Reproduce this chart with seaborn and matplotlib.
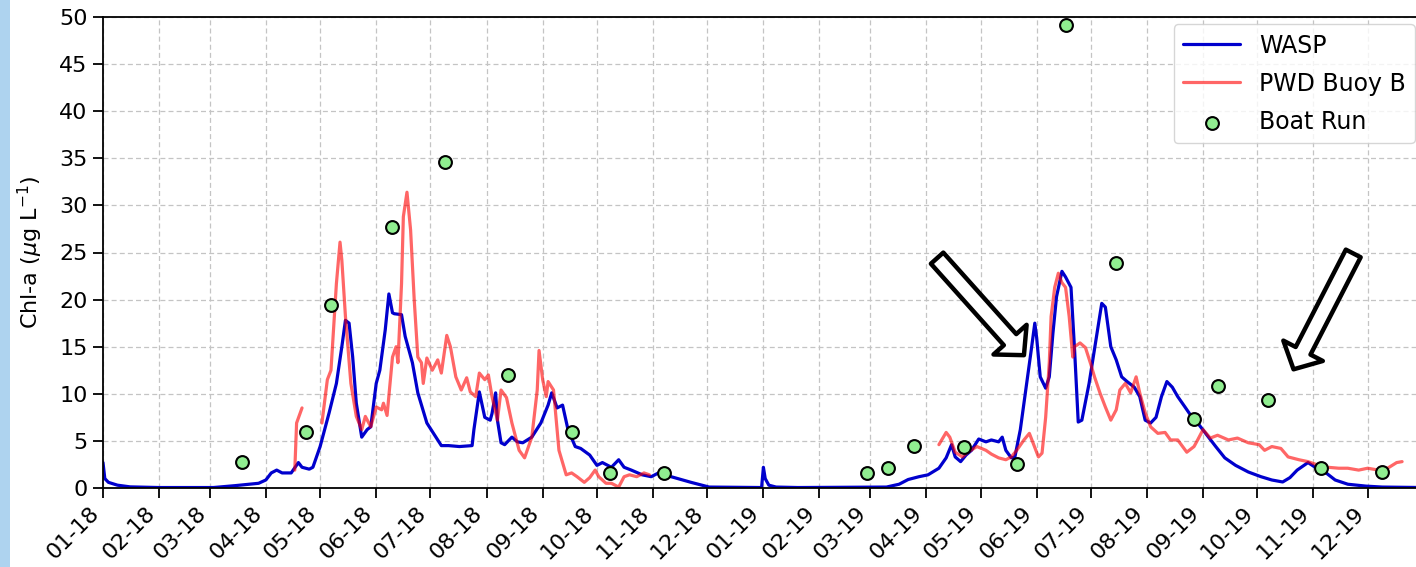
import pandas as pd
import matplotlib
matplotlib.use('Agg')
import matplotlib.pyplot as plt
import matplotlib.dates as mdates
from matplotlib.patches import Rectangle
import seaborn as sns

# WASP model output
wasp_dates = ['2018-01-01', '2018-01-02', '2018-01-04', '2018-01-09', '2018-01-16', '2018-02-01',
              '2018-03-03', '2018-03-15', '2018-03-28', '2018-04-01', '2018-04-04', '2018-04-07',
              '2018-04-10', '2018-04-15', '2018-04-19', '2018-04-21', '2018-04-25', '2018-04-27',
              '2018-05-01', '2018-05-06', '2018-05-10', '2018-05-13', '2018-05-15', '2018-05-17',
              '2018-05-19', '2018-05-21', '2018-05-24', '2018-05-27', '2018-05-29', '2018-06-01',
              '2018-06-03', '2018-06-06', '2018-06-08', '2018-06-10', '2018-06-11', '2018-06-15',
              '2018-06-17', '2018-06-21', '2018-06-24', '2018-06-29', '2018-07-04', '2018-07-07',
              '2018-07-11', '2018-07-17', '2018-07-24', '2018-07-25', '2018-07-28', '2018-07-31',
              '2018-08-03', '2018-08-04', '2018-08-06', '2018-08-07', '2018-08-09', '2018-08-11',
              '2018-08-15', '2018-08-18', '2018-08-21', '2018-08-26', '2018-08-31', '2018-09-04',
              '2018-09-06', '2018-09-09', '2018-09-12', '2018-09-15', '2018-09-19', '2018-09-22',
              '2018-09-27', '2018-10-01', '2018-10-04', '2018-10-09', '2018-10-13', '2018-10-16',
              '2018-10-20', '2018-10-26', '2018-10-31', '2018-11-04', '2018-11-11', '2018-11-22',
              '2018-12-02', '2018-12-31', '2019-01-01', '2019-01-02', '2019-01-04', '2019-01-08',
              '2019-01-20', '2019-03-10', '2019-03-17', '2019-03-22', '2019-03-28', '2019-04-02',
              '2019-04-08', '2019-04-12', '2019-04-15', '2019-04-17', '2019-04-20', '2019-04-23',
              '2019-04-26', '2019-04-30', '2019-05-04', '2019-05-07', '2019-05-11', '2019-05-13',
              '2019-05-15', '2019-05-18', '2019-05-20', '2019-05-23', '2019-05-26', '2019-05-29',
              '2019-05-31', '2019-06-01', '2019-06-03', '2019-06-06', '2019-06-08', '2019-06-10',
              '2019-06-12', '2019-06-15', '2019-06-17', '2019-06-20', '2019-06-22', '2019-06-24',
              '2019-06-26', '2019-06-30', '2019-07-04', '2019-07-07', '2019-07-09', '2019-07-12',
              '2019-07-15', '2019-07-18', '2019-07-21', '2019-07-25', '2019-07-28', '2019-07-31',
              '2019-08-03', '2019-08-06', '2019-08-09', '2019-08-12', '2019-08-15', '2019-08-18',
              '2019-08-22', '2019-08-27', '2019-08-29', '2019-09-02', '2019-09-08', '2019-09-13',
              '2019-09-19', '2019-09-26', '2019-10-03', '2019-10-09', '2019-10-15', '2019-10-19',
              '2019-10-23', '2019-10-26', '2019-10-29', '2019-11-02', '2019-11-08', '2019-11-13',
              '2019-11-20', '2019-11-30', '2019-12-09', '2019-12-31']
wasp_vals = [2.7, 1.0, 0.6, 0.3, 0.12, 0.05,
             0.05, 0.25, 0.5, 0.85, 1.6, 1.9,
             1.6, 1.6, 2.7, 2.2, 2.0, 2.2,
             4.4, 8.0, 11.1, 15.0, 17.8, 17.5,
             13.9, 9.0, 5.4, 6.2, 6.5, 11.1,
             12.5, 16.8, 20.6, 18.6, 18.5, 18.4,
             16.1, 13.3, 10.1, 6.9, 5.4, 4.5,
             4.5, 4.4, 4.5, 6.2, 10.2, 7.5,
             7.2, 7.9, 10.1, 7.2, 4.8, 4.6,
             5.4, 4.9, 4.8, 5.4, 6.9, 8.8,
             10.1, 8.5, 8.8, 6.2, 4.4, 4.2,
             3.5, 2.4, 2.7, 2.2, 3.0, 2.2,
             1.9, 1.4, 1.2, 1.6, 1.2, 0.6,
             0.1, 0.05, 2.2, 1.0, 0.3, 0.1,
             0.05, 0.1, 0.4, 0.9, 1.2, 1.4,
             2.1, 3.2, 4.6, 3.3, 2.8, 3.5,
             4.0, 5.2, 4.9, 5.1, 4.9, 5.4,
             4.0, 3.2, 3.3, 6.2, 10.4, 14.6,
             17.5, 16.0, 11.8, 10.6, 11.8, 16.4,
             20.3, 23.0, 22.4, 21.3, 14.6, 7.0,
             7.2, 11.1, 16.0, 19.6, 19.2, 15.0,
             13.6, 11.8, 11.3, 10.7, 9.7, 7.2,
             6.9, 7.5, 9.7, 11.3, 10.7, 9.7,
             8.6, 7.2, 6.9, 5.9, 4.4, 3.2,
             2.4, 1.7, 1.2, 0.85, 0.64, 1.1,
             1.9, 2.3, 2.7, 2.2, 1.6, 0.85,
             0.4, 0.2, 0.1, 0.05]

# PWD Buoy B record, three pieces with gaps in between
buoy_dates_a = ['2018-04-17', '2018-04-18', '2018-04-21']
buoy_vals_a = [1.9, 6.9, 8.5]

buoy_dates_b = ['2018-05-02', '2018-05-05', '2018-05-07', '2018-05-10', '2018-05-12', '2018-05-13',
                '2018-05-15', '2018-05-18', '2018-05-21', '2018-05-24', '2018-05-26', '2018-05-29',
                '2018-06-01', '2018-06-04', '2018-06-05', '2018-06-07', '2018-06-10', '2018-06-12',
                '2018-06-13', '2018-06-15', '2018-06-16', '2018-06-18', '2018-06-20', '2018-06-22',
                '2018-06-24', '2018-06-26', '2018-06-27', '2018-06-29', '2018-07-02', '2018-07-05',
                '2018-07-07', '2018-07-10', '2018-07-12', '2018-07-15', '2018-07-18', '2018-07-21',
                '2018-07-23', '2018-07-26', '2018-07-28', '2018-07-31', '2018-08-02', '2018-08-04',
                '2018-08-07', '2018-08-09', '2018-08-12', '2018-08-15', '2018-08-19', '2018-08-22',
                '2018-08-26', '2018-08-29', '2018-08-30', '2018-09-01', '2018-09-03', '2018-09-04',
                '2018-09-07', '2018-09-10', '2018-09-14', '2018-09-17', '2018-09-20', '2018-09-24',
                '2018-09-27', '2018-09-30', '2018-10-02', '2018-10-06', '2018-10-09', '2018-10-13',
                '2018-10-16', '2018-10-19', '2018-10-23', '2018-10-27', '2018-10-30']
buoy_vals_b = [6.9, 11.5, 12.5, 21.7, 26.1, 24.2,
               18.2, 11.1, 7.6, 6.2, 7.6, 6.5,
               8.6, 8.3, 9.0, 7.7, 13.9, 15.0,
               13.3, 21.7, 28.8, 31.4, 27.4, 20.0,
               13.9, 13.3, 11.1, 13.8, 12.5, 13.6,
               12.2, 16.2, 15.0, 11.8, 10.4, 11.7,
               10.2, 9.7, 12.2, 11.5, 12.0, 9.7,
               7.2, 10.4, 9.6, 6.9, 4.0, 3.2,
               5.4, 10.4, 14.6, 11.5, 9.7, 11.3,
               10.4, 4.0, 1.4, 1.6, 1.2, 0.6,
               1.1, 1.9, 1.2, 0.5, 0.5, 0.1,
               1.2, 1.4, 1.2, 1.6, 1.4]

buoy_dates_c = ['2019-04-08', '2019-04-12', '2019-04-14', '2019-04-17', '2019-04-21', '2019-04-24',
                '2019-04-29', '2019-05-04', '2019-05-07', '2019-05-11', '2019-05-15', '2019-05-18',
                '2019-05-21', '2019-05-25', '2019-05-28', '2019-05-30', '2019-06-02', '2019-06-04',
                '2019-06-06', '2019-06-08', '2019-06-09', '2019-06-11', '2019-06-13', '2019-06-15',
                '2019-06-17', '2019-06-19', '2019-06-21', '2019-06-22', '2019-06-25', '2019-06-28',
                '2019-07-01', '2019-07-03', '2019-07-06', '2019-07-09', '2019-07-12', '2019-07-15',
                '2019-07-17', '2019-07-20', '2019-07-23', '2019-07-26', '2019-07-28', '2019-07-31',
                '2019-08-03', '2019-08-07', '2019-08-11', '2019-08-14', '2019-08-18', '2019-08-23',
                '2019-08-27', '2019-08-29', '2019-09-01', '2019-09-05', '2019-09-09', '2019-09-15',
                '2019-09-20', '2019-09-26', '2019-10-02', '2019-10-05', '2019-10-09', '2019-10-14',
                '2019-10-18', '2019-10-24', '2019-10-29', '2019-11-04', '2019-11-09', '2019-11-15',
                '2019-11-20', '2019-11-26', '2019-12-01', '2019-12-07', '2019-12-12', '2019-12-17',
                '2019-12-20']
buoy_vals_c = [4.6, 5.9, 5.4, 3.8, 3.3, 3.8,
               4.4, 4.0, 3.6, 3.2, 3.0, 3.3,
               4.0, 5.1, 5.8, 4.8, 3.3, 3.7,
               7.5, 13.3, 18.2, 21.3, 22.8, 21.8,
               21.3, 18.2, 13.9, 15.0, 15.4, 14.9,
               13.1, 11.8, 10.1, 8.6, 7.2, 8.3,
               10.4, 11.1, 10.1, 11.8, 10.1, 8.0,
               6.5, 5.8, 5.9, 5.1, 5.1, 3.8,
               4.4, 5.1, 6.2, 5.3, 5.6, 5.1,
               5.3, 4.8, 4.6, 4.0, 4.4, 4.2,
               3.3, 3.0, 2.8, 2.4, 2.2, 2.1,
               2.1, 1.9, 2.1, 1.9, 2.1, 2.7,
               2.8]

# Boat run samples
boat_dates = ['2018-03-19', '2018-04-23', '2018-05-07', '2018-06-10', '2018-07-09', '2018-08-13',
              '2018-09-17', '2018-10-08', '2018-11-07', '2019-02-27', '2019-03-11', '2019-03-25',
              '2019-04-22', '2019-05-21', '2019-06-17', '2019-07-15', '2019-08-27', '2019-09-09',
              '2019-10-07', '2019-11-05', '2019-12-09']
boat_vals = [2.8, 5.9, 19.4, 27.7, 34.6, 12.0,
             5.9, 1.6, 1.55, 1.55, 2.1, 4.45,
             4.4, 2.6, 49.1, 23.9, 7.3, 10.8,
             9.3, 2.1, 1.75]

# arrows: (tail date, tail value) -> (tip date, tip value)
arrow_tails = [('2019-04-07', 24.4), ('2019-11-23', 24.9)]
arrow_tips = [('2019-05-25', 14.1), ('2019-10-21', 12.6)]

sns.set_style('ticks')
plt.rcParams['font.family'] = ['DejaVu Sans']
plt.rcParams['text.color'] = 'black'
plt.rcParams['axes.labelcolor'] = 'black'
plt.rcParams['xtick.color'] = 'black'
plt.rcParams['ytick.color'] = 'black'
fs = 16

fig = plt.figure(figsize=(14.16, 5.67), dpi=100)
fig.patches.append(Rectangle((0, 0), 10 / 1416, 1, transform=fig.transFigure,
                             facecolor='#aed3ef', edgecolor='none', zorder=-1))
ax = fig.add_axes([103 / 1416, 79 / 567, 1319 / 1416, 471 / 567])

sns.lineplot(x=pd.to_datetime(wasp_dates), y=wasp_vals, color='mediumblue', lw=2.3,
             label='WASP', ax=ax, zorder=2)
first = True
for d, v in [(buoy_dates_a, buoy_vals_a), (buoy_dates_b, buoy_vals_b), (buoy_dates_c, buoy_vals_c)]:
    sns.lineplot(x=pd.to_datetime(d), y=v, color='red', alpha=0.6, lw=2.3,
                 label='PWD Buoy B' if first else None, ax=ax, zorder=2.5)
    first = False
sns.scatterplot(x=pd.to_datetime(boat_dates), y=boat_vals, s=85, color='lightgreen',
                edgecolor='black', linewidth=1.5, label='Boat Run', ax=ax, zorder=3)

for (td, tv), (hd, hv) in zip(arrow_tails, arrow_tips):
    ax.annotate('', xy=(pd.Timestamp(hd), hv), xytext=(pd.Timestamp(td), tv),
                arrowprops=dict(facecolor='white', edgecolor='black', lw=3.2,
                                width=12, headwidth=32, headlength=15), zorder=4)

ax.set_xlim(pd.Timestamp('2018-01-01'), pd.Timestamp('2019-12-31'))
ax.set_ylim(0, 50)
ax.set_yticks(range(0, 51, 5))
ax.set_xticks(pd.date_range('2018-01-01', '2019-12-01', freq='MS'))
ax.xaxis.set_major_formatter(mdates.DateFormatter('%m-%y'))
plt.setp(ax.get_xticklabels(), rotation=45, ha='right')
ax.tick_params(labelsize=fs, length=7, width=1.3, color='black', pad=4)
ax.set_ylabel('Chl-a ($\\mu$g L$^{-1}$)', fontsize=fs, labelpad=10)
ax.set_xlabel('')
ax.grid(True, ls=(0, (4, 2.5)), color='#c4c4c4', lw=0.9)
for sp in ax.spines.values():
    sp.set_color('black')
    sp.set_linewidth(1.3)

ax.legend(loc='upper right', fontsize=17, handlelength=2.4, labelspacing=0.6,
          borderaxespad=0.3, framealpha=0.8)

plt.savefig('out.png', dpi=100)
